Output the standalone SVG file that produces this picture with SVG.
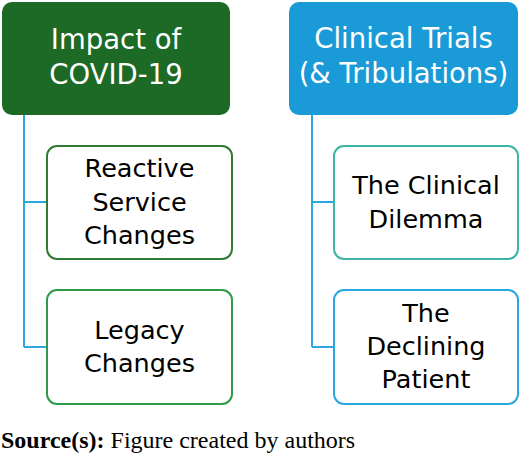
<svg xmlns="http://www.w3.org/2000/svg" width="520" height="456" viewBox="0 0 520 456">
<style>
.hdr{font-family:"DejaVu Sans",sans-serif;font-size:27.500px;fill:#ffffff;text-anchor:middle}
.lbl{font-family:"DejaVu Sans",sans-serif;font-size:25.500px;fill:#000000;text-anchor:middle}
.conn{fill:none;stroke:#29a8e0;stroke-width:2}
.child{fill:#ffffff;stroke-width:2}
.src{font-family:"Liberation Serif","Times New Roman",serif;font-size:24px;fill:#000000}
</style>
<rect width="520" height="456" fill="#ffffff"/>
<g id="connectors">
<path class="conn" d="M24,115 V347 M24,202 H47 M24,347 H47"/>
<path class="conn" d="M312,115 V347 M312,202 H334 M312,347 H334"/>
</g>
<g id="impact">
<rect x="2" y="2" width="228" height="113" rx="10" fill="#1c6a25"/>
<text class="hdr" x="116" y="49">Impact of</text>
<text class="hdr" x="116" y="84">COVID-19</text>
</g>
<g id="reactive">
<rect class="child" x="47" y="146" width="185" height="113" rx="10" stroke="#2e7d32"/>
<text class="lbl" x="139.500" y="177">Reactive</text>
<text class="lbl" x="139.500" y="211">Service</text>
<text class="lbl" x="139.500" y="244">Changes</text>
</g>
<g id="legacy">
<rect class="child" x="47" y="290" width="185" height="114" rx="10" stroke="#2e9a4a"/>
<text class="lbl" x="139.500" y="339">Legacy</text>
<text class="lbl" x="139.500" y="372">Changes</text>
</g>
<g id="clinical">
<rect x="289" y="2" width="229" height="113" rx="10" fill="#1a9ad6"/>
<text class="hdr" x="403.500" y="48">Clinical Trials</text>
<text class="hdr" x="403.500" y="83">(&amp; Tribulations)</text>
</g>
<g id="dilemma">
<rect class="child" x="334" y="146" width="184" height="113" rx="10" stroke="#3db5a6"/>
<text class="lbl" x="426" y="194">The Clinical</text>
<text class="lbl" x="426" y="228">Dilemma</text>
</g>
<g id="declining">
<rect class="child" x="334" y="290" width="184" height="114" rx="10" stroke="#29a8e0"/>
<text class="lbl" x="426" y="322">The</text>
<text class="lbl" x="426" y="355">Declining</text>
<text class="lbl" x="426" y="388">Patient</text>
</g>
<text class="src" x="1" y="448"><tspan font-weight="bold">Source(s):</tspan> Figure created by authors</text>
</svg>
